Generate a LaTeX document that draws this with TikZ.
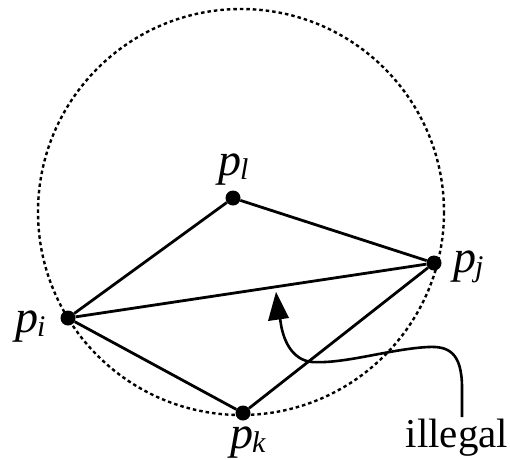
\documentclass[tikz,border=0pt]{standalone}
\usepackage{fontspec}
\setmainfont{Liberation Serif}
\newcommand{\psub}[1]{\textit{p}\kern-1pt\raisebox{-4pt}{\fontsize{30}{32}\selectfont\textit{#1}}}
\begin{document}
\begin{tikzpicture}[x=1pt,y=-1pt,
  vtx/.style={circle,fill=black,inner sep=0pt,minimum size=15pt},
  edge/.style={line width=2.8pt},
  lbl/.style={font=\fontsize{46}{50}\selectfont,inner sep=0pt,anchor=base west}]
\useasboundingbox (0,0) rectangle (510,459);
\draw[line width=2.4pt,dash pattern=on 3.5pt off 3pt] (241,212) circle [radius=203];
\node[vtx] (pl) at (233,198) {};
\node[vtx] (pj) at (434,263) {};
\node[vtx] (pi) at (68,318) {};
\node[vtx] (pk) at (243,413) {};
\draw[edge] (pi) -- (pl) -- (pj) -- (pi) -- (pk) -- (pj);
\node[lbl] (tl) at (218,175) {\psub{l}};
\node[lbl] (tj) at (453,272) {\psub{j}};
\node[lbl] (ti) at (15,332) {\psub{i}};
\node[lbl] (tk) at (230,448) {\psub{k}};
\node[font=\fontsize{41}{48}\selectfont,inner sep=0pt,anchor=base] (ill) at (457,447) {illegal};
\coordinate (st) at (462,417);
\coordinate (tip) at (276,292);
\coordinate (hb) at (280,317);
\draw[line width=2.6pt] (st) -- (462,388)
  .. controls (462,352) and (448,346) .. (428,347)
  .. controls (390,349) and (345,364) .. (312,362)
  .. controls (292,360) and (282,340) .. (hb);
\fill (tip) -- (268,321) -- (289,318) -- cycle;
\end{tikzpicture}
\end{document}
